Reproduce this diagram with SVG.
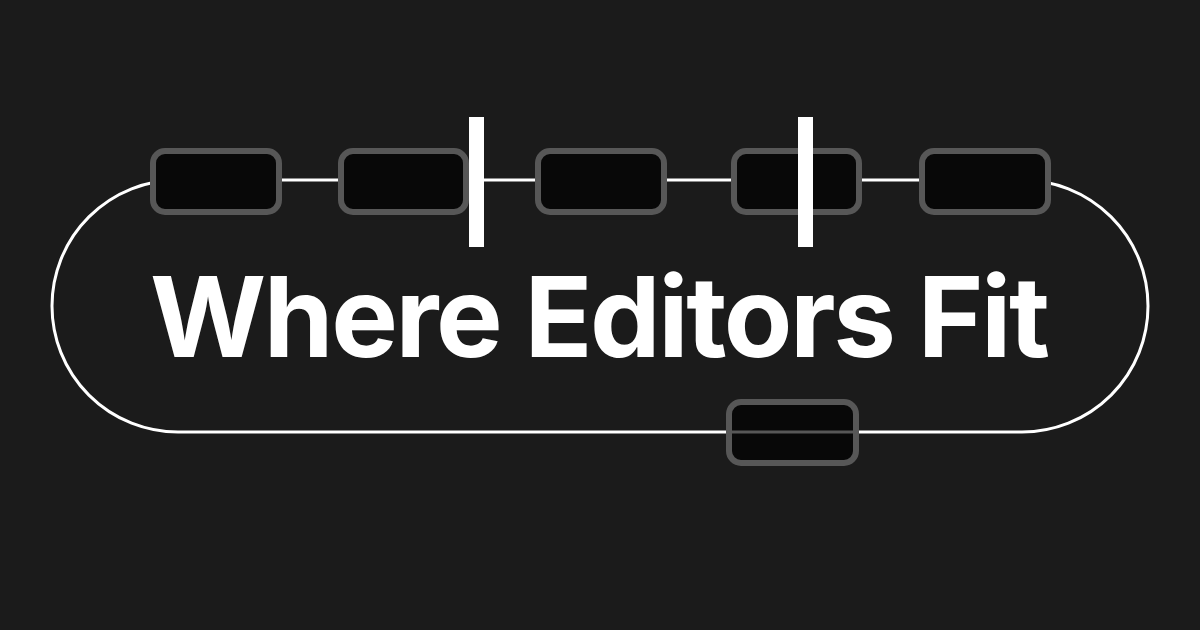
<svg xmlns="http://www.w3.org/2000/svg" width="1200" height="630" viewBox="0 0 1200 630">
<style>
.box{fill:#080808;stroke:#575757;stroke-width:6}
.wire{fill:none;stroke:#ffffff;stroke-width:3}
.bar{fill:#ffffff}
.title{font-family:Inter,"Liberation Sans",sans-serif;font-weight:700;font-size:112px;fill:#ffffff}
</style>
<rect width="1200" height="630" fill="#1b1b1b"/>
<g id="connectors">
<path class="wire" d="M178,180 H1022 A126,126 0 0 1 1022,432 H178 A126,126 0 0 1 178,180 Z"/>
</g>
<g id="box1"><rect class="box" x="153" y="151" width="126" height="61" rx="12"/></g>
<g id="box2"><rect class="box" x="341" y="151" width="125" height="61" rx="12"/></g>
<g id="bar1"><rect class="bar" x="469" y="117" width="15" height="130"/></g>
<g id="box3"><rect class="box" x="538" y="151" width="126" height="61" rx="12"/></g>
<g id="box4"><rect class="box" x="734" y="151" width="125" height="61" rx="12"/></g>
<g id="bar2"><rect class="bar" x="798" y="117" width="15" height="130"/></g>
<g id="box5"><rect class="box" x="922" y="151" width="126" height="61" rx="12"/></g>
<g id="box6"><rect class="box" x="729" y="402" width="127" height="61" rx="12"/><line x1="729" y1="432" x2="856" y2="432" stroke="#575757" stroke-width="3"/></g>
<g id="title"><text class="title" x="150" y="357" textLength="900" lengthAdjust="spacing">Where Editors Fit</text></g>
</svg>
